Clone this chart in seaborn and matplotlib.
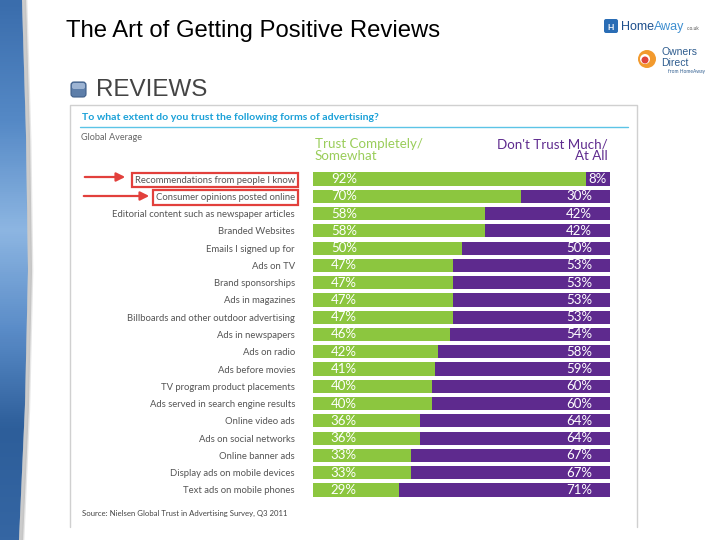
import numpy as np
import pandas as pd
import matplotlib
matplotlib.use('Agg')
import matplotlib.pyplot as plt
import seaborn as sns
from matplotlib.patches import FancyBboxPatch, Polygon, Circle
from matplotlib.colors import LinearSegmentedColormap

# ---- data ----
categories = [
    'Recommendations from people I know',
    'Consumer opinions posted online',
    'Editorial content such as newspaper articles',
    'Branded Websites',
    'Emails I signed up for',
    'Ads on TV',
    'Brand sponsorships',
    'Ads in magazines',
    'Billboards and other outdoor advertising',
    'Ads in newspapers',
    'Ads on radio',
    'Ads before movies',
    'TV program product placements',
    'Ads served in search engine results',
    'Online video ads',
    'Ads on social networks',
    'Online banner ads',
    'Display ads on mobile devices',
    'Text ads on mobile phones',
]
trust = [92, 70, 58, 58, 50, 47, 47, 47, 47, 46, 42, 41, 40, 40, 36, 36, 33, 33, 29]
distrust = [8, 30, 42, 42, 50, 53, 53, 53, 53, 54, 58, 59, 60, 60, 64, 64, 67, 67, 71]

GREEN = '#8cc63f'
PURPLE = '#5e2a8e'
RED = '#e2403c'

sns.set_theme(style='white')
plt.rcParams['font.family'] = ['Lato', 'DejaVu Sans']

fig = plt.figure(figsize=(7.2, 5.4), dpi=100)
fig.patch.set_facecolor('white')

# background axes in pixel coordinates (y down)
bg = fig.add_axes([0, 0, 1, 1], zorder=0)
bg.axis('off')

# left decorative blue band
ys = np.linspace(0, 540, 200)
edge = np.interp(ys, [0, 135, 270, 405, 540], [22, 26, 28, 25, 19])
stops = [0, 120, 230, 330, 430, 540]
cols = ['#3a6dac', '#5589c6', '#8db6e2', '#5a8cc8', '#2d5e9a', '#3566a3']
cmap = LinearSegmentedColormap.from_list('band', list(zip(np.array(stops) / 540, cols)))
grad = np.tile(np.linspace(0, 1, 540)[:, None], (1, 40))
im = bg.imshow(grad, cmap=cmap, extent=(0, 40, 540, 0), aspect='auto', zorder=1)
clip = Polygon(np.column_stack([np.r_[0, edge, 0], np.r_[0, ys, 540]]), closed=True,
               transform=bg.transData, fc='none', ec='none')
bg.add_patch(clip)
im.set_clip_path(clip)
bg.plot(edge + 2, ys, color='#8c8c8c', lw=3, alpha=0.45, zorder=2)
bg.plot(edge + 4, ys, color='#bdbdbd', lw=2, alpha=0.35, zorder=2)

# slide title and section header
bg.text(66, 31, 'The Art of Getting Positive Reviews', fontsize=17.2, family=['Liberation Sans'],
        va='center', color='black')
bg.add_patch(FancyBboxPatch((71, 82), 15, 15, boxstyle='round,pad=0,rounding_size=3',
                            fc='#5d7ea9', ec='#3f5f8a', lw=0.8, zorder=3))
bg.add_patch(FancyBboxPatch((72, 83), 13, 6, boxstyle='round,pad=0,rounding_size=2',
                            fc='#9db4d3', ec='none', zorder=4))
bg.text(96, 90, 'REVIEWS', fontsize=17.4, family=['Liberation Sans'], va='center', color='#444444')

# logos
bg.add_patch(FancyBboxPatch((604, 19), 14, 14, boxstyle='round,pad=0,rounding_size=2',
                            fc='#2a6db5', ec='none', zorder=3))
bg.text(611, 27, 'H', fontsize=6, color='white', ha='center', va='center', fontweight='bold', zorder=4)
bg.text(621, 27, 'Home', fontsize=9, family=['Liberation Sans'], color='#1d4f8c', va='center')
bg.text(654, 27, 'Away', fontsize=9, family=['Liberation Sans'], color='#3f8fd0', va='center')
bg.text(687, 28, '.co.uk', fontsize=3.5, color='#555555', va='center')
bg.add_patch(Circle((647, 59), 9, fc='#f29a2e', ec='none', zorder=3))
bg.add_patch(Circle((645, 59), 5, fc='white', ec='none', zorder=4))
bg.add_patch(Circle((645, 60), 3.5, fc='#e0443c', ec='none', zorder=5))
bg.text(661, 52, 'Owners', fontsize=7.5, family=['Liberation Sans'], color='#2f5d8f', va='center')
bg.text(661, 63, 'Direct', fontsize=7.5, family=['Liberation Sans'], color='#2f5d8f', va='center')
bg.text(668, 72, 'from HomeAway', fontsize=3.5, color='#2f5d8f', va='center')

# chart frame
bg.plot([70, 70, 637, 637], [527, 105, 105, 527], color='#d0d0d0', lw=1)
bg.text(82, 118, 'To what extent do you trust the following forms of advertising?',
        color='#1ba1d8', fontsize=7.55, fontweight='bold', va='center')
bg.plot([80, 628], [127, 127], color='#5cc4e6', lw=1)
bg.text(81, 137, 'Global Average', fontsize=6.6, color='#666666', va='center')
bg.text(315, 150, 'Trust Completely/\nSomewhat', color='#9acd5a', fontsize=9.6, va='center',
        ha='left', linespacing=0.9)
bg.text(608, 150, "Don't Trust Much/\nAt All", color=PURPLE, fontsize=9.6, va='center',
        ha='right', multialignment='right', linespacing=0.9)
bg.text(82, 513, 'Source: Nielsen Global Trust in Advertising Survey, Q3 2011', fontsize=5.6,
        color='#444444', va='center')

# red arrows
bg.annotate('', xy=(128, 177), xytext=(82, 177),
            arrowprops=dict(arrowstyle='-|>', color=RED, lw=1.6, mutation_scale=13))
bg.annotate('', xy=(152, 196), xytext=(81, 196),
            arrowprops=dict(arrowstyle='-|>', color=RED, lw=1.6, mutation_scale=13))

bg.set_xlim(0, 720)
bg.set_ylim(540, 0)

# ---- stacked bars ----
df = pd.DataFrame({'form': categories, 'trust': trust, 'distrust': distrust})
df['total'] = df['trust'] + df['distrust']

top, bottom = 170.4, 498.6
ax = fig.add_axes([313 / 720, 1 - bottom / 540, 297 / 720, (bottom - top) / 540], zorder=2)
ax.patch.set_alpha(0)
sns.barplot(data=df, y='form', x='total', color=PURPLE, saturation=1, width=0.76,
            linewidth=0, orient='h', ax=ax)
sns.barplot(data=df, y='form', x='trust', color=GREEN, saturation=1, width=0.76,
            linewidth=0, orient='h', ax=ax)
ax.set_xlim(0, 100)
ax.set_ylim(len(df) - 0.5, -0.5)
ax.set_xlabel('')
ax.set_ylabel('')
ax.set_xticks([])
ax.tick_params(axis='y', length=0, pad=13, labelsize=6.8, labelcolor='#555555')
sns.despine(ax=ax, left=True, bottom=True)

for i, (t, d) in enumerate(zip(trust, distrust)):
    ax.text(6, i, f'{t}%', ha='left', va='center', color='white', fontsize=9.5)
    ax.text(99 if d < 15 else 94, i, f'{d}%', ha='right', va='center', color='white', fontsize=9.5)

for lbl in ax.get_yticklabels()[:2]:
    lbl.set_bbox(dict(boxstyle='square,pad=0.3', fc='none', ec=RED, lw=1.6))

fig.savefig('out.png', dpi=100)
